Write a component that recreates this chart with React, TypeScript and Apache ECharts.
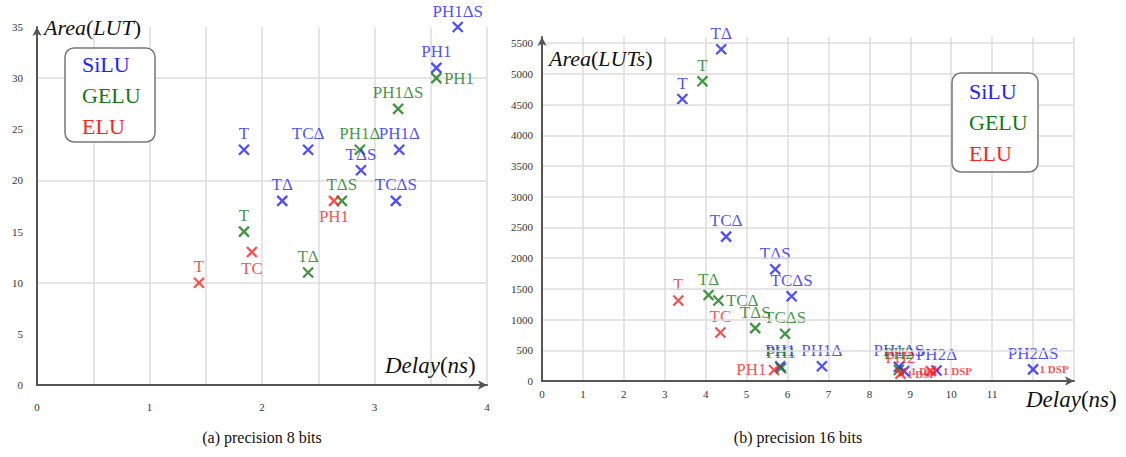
import React, { useEffect, useRef } from "react";
import * as echarts from "echarts";

type Pt = [number, number, string, string];

// (a) precision 8 bits : [delay ns, area LUT, label, label position]
const silu8: Pt[] = [
  [1.84, 23, "T", "top"],
  [2.41, 23, "TCΔ", "top"],
  [2.18, 18, "TΔ", "top"],
  [2.88, 21, "TΔS", "top"],
  [3.22, 23, "PH1Δ", "top"],
  [3.19, 18, "TCΔS", "top"],
  [3.55, 31, "PH1", "top"],
  [3.74, 35, "PH1ΔS", "top"],
];
const gelu8: Pt[] = [
  [1.84, 15, "T", "top"],
  [2.41, 11, "TΔ", "top"],
  [2.71, 18, "TΔS", "top"],
  [2.87, 23, "PH1Δ", "top"],
  [3.21, 27, "PH1ΔS", "top"],
  [3.55, 30, "PH1", "right"],
];
const elu8: Pt[] = [
  [1.44, 10, "T", "top"],
  [1.91, 13, "TC", "bottom"],
  [2.64, 18, "PH1", "bottom"],
];

// (b) precision 16 bits : [delay ns, area LUTs, label, label position]
const silu16: Pt[] = [
  [3.43, 4590, "T", "top"],
  [4.38, 5400, "TΔ", "top"],
  [4.5, 2350, "TCΔ", "top"],
  [5.7, 1820, "TΔS", "top"],
  [6.1, 1380, "TCΔS", "top"],
  [5.82, 240, "PH1", "top"],
  [6.84, 240, "PH1Δ", "top"],
  [8.72, 230, "PH1ΔS", "top"],
  [8.85, 160, "", ""],
  [9.64, 170, "PH2Δ", "top"],
  [12.0, 190, "PH2ΔS", "top"],
];
const gelu16: Pt[] = [
  [3.92, 4880, "T", "top"],
  [4.07, 1400, "TΔ", "top"],
  [4.31, 1310, "TCΔ", "topright"],
  [5.21, 860, "TΔS", "top"],
  [5.94, 770, "TCΔS", "top"],
  [5.84, 210, "PH1", "top"],
  [8.72, 180, "PH2", "top"],
];
const elu16: Pt[] = [
  [3.33, 1310, "T", "top"],
  [4.36, 790, "TC", "top"],
  [5.67, 180, "PH1", "left"],
  [8.76, 120, "PH2", "top"],
  [9.5, 160, "", ""],
];
// "1 DSP" annotations (right chart)
const dsp16: [number, number][] = [
  [8.85, 165],
  [8.76, 115],
  [9.64, 170],
  [12.0, 190],
];

const xTicks8 = [0, 1, 2, 3, 4];
const xTicks16 = [0, 1, 2, 3, 4, 5, 6, 7, 8, 9, 10, 11];

const BLUE = "#2222ff";
const GREEN = "#137a13";
const RED = "#ff2222";
const FONT = '"Liberation Serif", "Times New Roman", serif';
const CROSS = "path://M0,0L10,10M10,0L0,10";

function toData(pts: Pt[]) {
  return pts.map(([x, y, name, pos]) => {
    const label: any = { show: !!name, formatter: name };
    if (pos === "topright") {
      label.position = "right";
      label.offset = [-2, -13];
    } else if (pos) {
      label.position = pos;
    }
    return { value: [x, y], label };
  });
}

function scatter(name: string, pts: Pt[], color: string, gi: number) {
  return {
    type: "scatter",
    name,
    xAxisIndex: gi,
    yAxisIndex: gi === 0 ? 0 : 2,
    symbol: CROSS,
    symbolSize: 10,
    itemStyle: { color: "none", borderColor: color, borderWidth: 2.3 },
    label: {
      show: true,
      color,
      fontFamily: FONT,
      fontSize: 17,
      distance: 0,
    },
    labelLayout: { hideOverlap: false },
    data: toData(pts),
    z: 3,
  };
}

function legendBox(x: number, y: number, w: number, h: number, gap: number) {
  const names: [string, string][] = [
    ["SiLU", BLUE],
    ["GELU", GREEN],
    ["ELU", RED],
  ];
  return [
    {
      type: "rect",
      shape: { x, y, width: w, height: h, r: 9 },
      style: { fill: "#fff", stroke: "#777", lineWidth: 1.5 },
      z: 10,
    },
    ...names.map(([t, c], i) => ({
      type: "text",
      x: x + 17,
      y: y + h / 2 + (i - 1) * gap,
      style: {
        text: t,
        fill: c,
        font: `22px ${FONT}`,
        verticalAlign: "middle",
      },
      z: 11,
    })),
  ];
}

function mathText(x: number, y: number, a: string, b: string, size: number) {
  return {
    type: "text",
    x,
    y,
    style: {
      text: `{i|${a}}{n|(}{i|${b}}{n|)}`,
      verticalAlign: "middle",
      fill: "#111",
      rich: {
        i: { fontFamily: FONT, fontSize: size, fontStyle: "italic", fill: "#111" },
        n: { fontFamily: FONT, fontSize: size, fill: "#111" },
      },
    },
    z: 10,
  };
}

const axisLineStyle = {
  show: true,
  symbol: ["none", "arrow"],
  symbolSize: [7, 9],
  lineStyle: { color: "#555", width: 2 },
};
const gridLine = { show: true, lineStyle: { color: "#dcdcdc", width: 1.5 } };
const tickLabel = { color: "#333", fontFamily: FONT, fontSize: 11 };

export default function App() {
  const ref = useRef<HTMLDivElement>(null);
  useEffect(() => {
    if (!ref.current) return;
    const chart = echarts.init(ref.current, undefined, { renderer: "svg" });
    chart.setOption({
      animation: false,
      backgroundColor: "#fff",
      grid: [
        { left: 37, top: 27, width: 450, height: 358 },
        { left: 542, top: 37, width: 532, height: 344 },
      ],
      xAxis: [
        {
          gridIndex: 0,
          type: "value",
          min: 0,
          max: 4,
          interval: 0.5,
          axisLine: axisLineStyle,
          axisTick: { show: false },
          splitLine: { ...gridLine, showMinLine: false },
          axisLabel: {
            ...tickLabel,
            margin: 16,
            formatter: (v: number) => (xTicks8.includes(v) ? String(v) : ""),
          },
        },
        {
          gridIndex: 1,
          type: "value",
          min: 0,
          max: 13,
          interval: 1,
          axisLine: axisLineStyle,
          axisTick: { show: false },
          splitLine: { ...gridLine, showMinLine: false },
          axisLabel: {
            ...tickLabel,
            margin: 7,
            formatter: (v: number) => (xTicks16.includes(v) ? String(v) : ""),
          },
        },
      ],
      yAxis: [
        {
          gridIndex: 0,
          type: "value",
          min: 0,
          max: 35,
          interval: 5,
          axisLine: axisLineStyle,
          axisTick: { show: false },
          splitLine: { show: false },
          axisLabel: { ...tickLabel, margin: 14 },
          z: 5,
        },
        {
          gridIndex: 0,
          type: "value",
          min: 0,
          max: 35,
          interval: 10,
          axisLine: { show: false },
          axisTick: { show: false },
          axisLabel: { show: false },
          splitLine: { ...gridLine, showMinLine: false, showMaxLine: false },
        },
        {
          gridIndex: 1,
          type: "value",
          min: 0,
          max: 5600,
          interval: 500,
          axisLine: axisLineStyle,
          axisTick: { show: false },
          splitLine: { ...gridLine, showMinLine: false, showMaxLine: false },
          axisLabel: {
            ...tickLabel,
            margin: 9,
            formatter: (v: number) => (v % 500 === 0 ? String(v) : ""),
          },
          z: 5,
        },
      ],
      series: [
        scatter("SiLU", silu8, BLUE, 0),
        scatter("GELU", gelu8, GREEN, 0),
        scatter("ELU", elu8, RED, 0),
        scatter("SiLU", silu16, BLUE, 1),
        scatter("GELU", gelu16, GREEN, 1),
        scatter("ELU", elu16, RED, 1),
        {
          type: "scatter",
          name: "DSP",
          xAxisIndex: 1,
          yAxisIndex: 2,
          symbol: "circle",
          symbolSize: 1,
          itemStyle: { color: "transparent" },
          label: {
            show: true,
            position: "right",
            distance: 6,
            formatter: "1 DSP",
            color: RED,
            fontFamily: FONT,
            fontSize: 11,
            fontWeight: "bold",
          },
          labelLayout: { hideOverlap: false },
          data: dsp16.map((p) => ({ value: p })),
          z: 4,
        },
      ],
      graphic: [
        mathText(44, 27, "Area", "LUT", 22),
        mathText(549, 58, "Area", "LUTs", 22),
        mathText(385, 365, "Delay", "ns", 23),
        mathText(1026, 399, "Delay", "ns", 23),
        ...legendBox(65, 48, 90, 94, 31),
        ...legendBox(952, 73, 86, 99, 31),
        {
          type: "text",
          x: 262,
          y: 437,
          style: {
            text: "(a) precision 8 bits",
            font: `16px ${FONT}`,
            fill: "#111",
            align: "center",
            verticalAlign: "middle",
          },
        },
        {
          type: "text",
          x: 798,
          y: 437,
          style: {
            text: "(b) precision 16 bits",
            font: `16px ${FONT}`,
            fill: "#111",
            align: "center",
            verticalAlign: "middle",
          },
        },
      ],
    });
    return () => chart.dispose();
  }, []);
  return (
    <div
      ref={ref}
      style={{ position: "fixed", left: 0, top: 0, width: 1126, height: 457 }}
    />
  );
}
